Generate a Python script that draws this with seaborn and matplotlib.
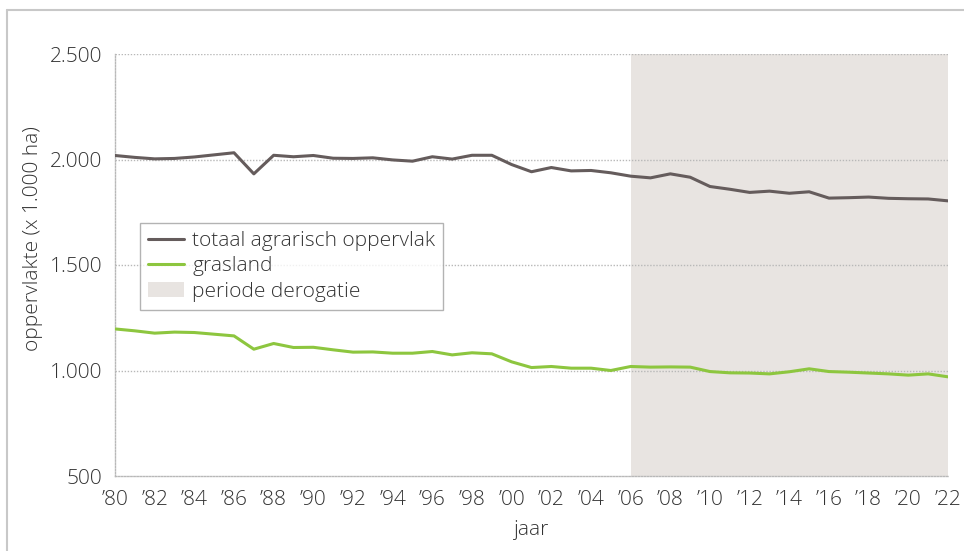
import matplotlib
matplotlib.use("Agg")
import matplotlib.pyplot as plt
import seaborn as sns
import pandas as pd
from matplotlib.lines import Line2D
from matplotlib.patches import Patch
from matplotlib.ticker import FuncFormatter

years = list(range(1980, 2023))
totaal = [2019, 2010, 2003, 2005, 2012, 2022, 2032, 1932, 2020, 2013,
          2019, 2006, 2005, 2008, 1998, 1992, 2013, 2002, 2020, 2020,
          1976, 1942, 1962, 1946, 1948, 1937, 1921, 1913, 1932, 1916,
          1872, 1859, 1844, 1850, 1840, 1847, 1817, 1819, 1822, 1816,
          1814, 1813, 1804]
grasland = [1197, 1188, 1177, 1182, 1180, 1172, 1164, 1101, 1128, 1109,
            1110, 1098, 1087, 1088, 1082, 1082, 1090, 1074, 1084, 1079,
            1041, 1014, 1019, 1011, 1011, 1000, 1019, 1016, 1017, 1016,
            995, 989, 988, 984, 994, 1008, 995, 992, 988, 984,
            978, 984, 970]
derogatie = (2006, 2022)
y_ticks = [500, 1000, 1500, 2000, 2500]
x_ticks = list(range(1980, 2023, 2))
x_labels = ["\u2019%02d" % (y % 100) for y in x_ticks]

sns.set_style("white")
plt.rcParams['font.family'] = ['Open Sans', 'DejaVu Sans']
plt.rcParams['font.weight'] = 'light'
plt.rcParams['axes.labelweight'] = 'light'

c_tot = "#655c5c"
c_gras = "#8dc63f"
c_shade = "#e8e4e1"
c_grid = "#b8b8b8"
c_text = "#333333"
fs = 15

df = pd.DataFrame({"jaar": years, "totaal": totaal, "grasland": grasland})

fig = plt.figure(figsize=(9.64, 5.51), dpi=100)
ax = fig.add_axes([115/964, 1-476/551, 833/964, 422/551])

ax.axvspan(derogatie[0], derogatie[1], color=c_shade, lw=0, zorder=0.5)
for yv in y_ticks[1:]:
    ax.axhline(yv, color=c_grid, lw=1, ls=(0, (1, 1.2)), zorder=1)

sns.lineplot(data=df, x="jaar", y="totaal", ax=ax, color=c_tot, lw=2.2, zorder=3)
sns.lineplot(data=df, x="jaar", y="grasland", ax=ax, color=c_gras, lw=2.2, zorder=3)

ax.set_xlim(1980, 2022)
ax.set_ylim(500, 2500)
ax.set_yticks(y_ticks)
ax.yaxis.set_major_formatter(FuncFormatter(lambda v, p: f"{v:,.0f}".replace(",", ".")))
ax.set_xticks(x_ticks)
ax.set_xticklabels(x_labels)

for s in ["top", "right"]:
    ax.spines[s].set_visible(False)
for s in ["left", "bottom"]:
    ax.spines[s].set_color(c_grid)
    ax.spines[s].set_linewidth(1)
    ax.spines[s].set_linestyle((0, (1, 1.2)))

ax.tick_params(axis="x", direction="in", length=16, width=1, color="#b0b0b0",
               labelsize=fs, labelcolor=c_text, pad=10)
ax.tick_params(axis="y", length=0, labelsize=fs, labelcolor=c_text, pad=9)
for t in ax.get_xticklines():
    t.set_zorder(2)

ax.set_xlabel("jaar", fontsize=fs, color=c_text, labelpad=7, fontweight="light")
ax.set_ylabel("oppervlakte (x 1.000 ha)", fontsize=fs, color=c_text,
              fontweight="light")
ax.yaxis.set_label_coords(-0.086, 0.5616)

handles = [Line2D([0], [0], color=c_tot, lw=2.2),
           Line2D([0], [0], color=c_gras, lw=2.2),
           Patch(facecolor=c_shade, edgecolor="none")]
labels = ["totaal agrarisch oppervlak", "grasland", "periode derogatie"]
leg = ax.legend(handles, labels, loc="upper left", bbox_to_anchor=(0.03, 0.6),
                fontsize=fs, frameon=True, fancybox=False, handlelength=1.7,
                handletextpad=0.4, labelspacing=0.25, borderpad=0.4, borderaxespad=0)
leg.get_frame().set_edgecolor("#a0a0a0")
leg.get_frame().set_linewidth(1)
for t in leg.get_texts():
    t.set_color(c_text)

# outer frame lines
fig.add_artist(Line2D([7/964, 1], [1-10/551, 1-10/551], transform=fig.transFigure,
                      color="#c8c8c8", lw=1.5))
fig.add_artist(Line2D([7/964, 7/964], [0, 1-10/551], transform=fig.transFigure,
                      color="#c8c8c8", lw=1.5))

fig.savefig("out.png", dpi=100)
